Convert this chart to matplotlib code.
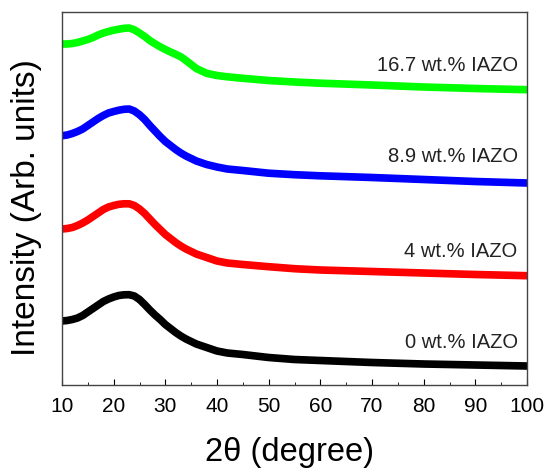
import numpy as np
import matplotlib.pyplot as plt
from matplotlib.ticker import MultipleLocator

plt.rcParams['font.family'] = ['Liberation Sans', 'DejaVu Sans']

# 2theta positions (degree) where the curves were read
two_theta = [10, 11, 12, 13, 14, 15, 16, 17, 18, 19, 20, 21, 22, 23, 24, 25,
             26, 27, 28, 29, 30, 31, 32, 33, 34, 35, 36, 38, 40, 42, 45,
             50, 55, 60, 70, 80, 90, 100]

# intensities (arb. units, vertical offset already included)
i_0 = [64, 64.5, 65.5, 67, 69.5, 73, 76.5, 80, 83.5, 86, 88, 89.5, 90.2, 90.3,
       89, 85.5, 80.5, 75, 70, 65.5, 60.5, 56.5, 52.5, 49, 46, 43.5, 41,
       37.5, 34, 32, 30.5, 27.5, 25.5, 24.5, 22.5, 21, 20, 19]
i_4 = [156, 156.5, 157.5, 159.5, 162, 165, 168.5, 172, 175.5, 178, 179.5,
       180.7, 181.2, 181.2, 179.5, 176, 171.5, 166, 160.5, 155.5, 150.5,
       146.5, 142.5, 139, 136, 133.5, 131, 127.5, 124, 122, 120.5, 118.3,
       116.3, 115, 113.5, 112, 110.5, 109.3]
i_89 = [249.3, 250, 251.5, 253.5, 256, 259.5, 263, 266.5, 269.5, 272, 273.5,
        274.8, 275.7, 276, 274, 270.3, 265.5, 259.5, 254, 248.5, 243.5,
        239.5, 235.5, 232, 229, 226.5, 224, 220.5, 218, 216, 214.5, 211.8,
        210.3, 209.2, 207.5, 205.5, 203.5, 202]
i_167 = [341, 341, 341.5, 342.5, 344, 345.5, 347.5, 350, 352, 353.5, 354.8,
         355.8, 356.7, 357, 355.2, 352, 348.5, 344.5, 341.2, 338.2, 335.5,
         333, 330.7, 328.2, 324.5, 320.5, 316.5, 311.7, 309.5, 308.2, 306.7,
         304.5, 303, 301.8, 300, 298, 296.5, 295.3]

labels = ['0 wt.% IAZO', '4 wt.% IAZO', '8.9 wt.% IAZO', '16.7 wt.% IAZO']
label_y = [43, 133.3, 228, 319.3]

fig = plt.figure(figsize=(5.44, 4.68), dpi=100)
ax = fig.add_axes([62/544, 83/468, 465/544, 373/468])

ax.plot(two_theta, i_0, color='black', lw=5.5)
ax.plot(two_theta, i_4, color='#ff0000', lw=5.5)
ax.plot(two_theta, i_89, color='#0000ff', lw=5.5)
ax.plot(two_theta, i_167, color='#00ff00', lw=5.5)

for lab, yy in zip(labels, label_y):
    ax.text(98.2, yy, lab, ha='right', va='center', fontsize=14.5, color='#222222')

ax.set_xlim(10, 100)
ax.set_ylim(0, 373)
ax.xaxis.set_major_locator(MultipleLocator(10))
ax.xaxis.set_minor_locator(MultipleLocator(5))
ax.tick_params(axis='x', which='major', direction='in', length=4, labelsize=15, pad=9)
ax.tick_params(axis='x', which='minor', direction='in', length=2.5)
ax.set_yticks([])
for s in ax.spines.values():
    s.set_color('#444444')
    s.set_linewidth(1)

ax.set_xlabel('2θ (degree)', fontsize=23.5, va='center')
ax.xaxis.set_label_coords(0.49, -0.182)
ax.set_ylabel('Intensity (Arb. units)', fontsize=24, va='center')
ax.yaxis.set_label_coords(-0.077, 0.4745)

plt.savefig('out.png', dpi=100)
